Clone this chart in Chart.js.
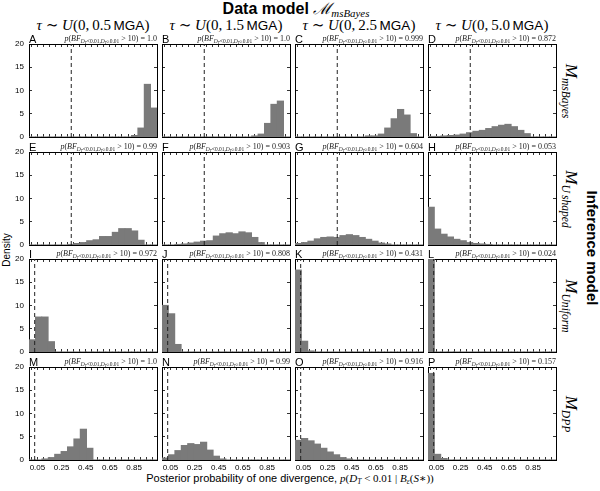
<!DOCTYPE html>
<html><head><meta charset="utf-8">
<script src="https://cdn.jsdelivr.net/npm/chart.js@4"></script>
<style>
body{margin:0;width:600px;height:491px;position:relative;background:#fff;overflow:hidden;font-family:"Liberation Sans",Arial,sans-serif;color:#000}
canvas{position:absolute}
.t{position:absolute;white-space:nowrap;line-height:1}
.c{transform:translate(-50%,-50%)}
.m{font-family:"Liberation Serif","DejaVu Serif",serif}
sub{font-size:0.68em;vertical-align:-0.3em;line-height:0}
</style></head><body>
<script>
// ---------- data ----------
const PANEL_LABELS = ['A','B','C','D','E','F','G','H','I','J','K','L','M','N','O','P'];
const TAU_MAX = ['0.5','1.5','2.5','5.0'];
const ROW_MODELS = ['msBayes','U\u2009shaped','Uniform','DPP'];
const BF_PROB = ['1.0','1.0','0.999','0.872','0.99','0.903','0.604','0.053','0.972','0.808','0.431','0.024','1.0','0.99','0.916','0.157'];
const X_TICK_LABELS = [0.05,0.25,0.45,0.65,0.85];
const X_MINOR = [0,0.05,0.1,0.15,0.2,0.25,0.3,0.35,0.4,0.45,0.5,0.55,0.6,0.65,0.7,0.75,0.8,0.85,0.9,0.95,1.0];
const Y_TICKS = [0,5,10,15,20];
const X_MIN = -0.02, X_MAX = 1.04;
const BIN_START = -0.02, BIN_WIDTH = 0.053;
const PRIOR_LINE = [0.33,0.33,0.027,0.027];

const densA = [0,0,0,0,0,0,0,0,0,0,0,0,0,0,0,0,0.3,1.9,11.3,6.2];
const densB = [0,0,0,0,0,0,0,0,0,0,0,0,0,0,0.2,0.6,2.9,7.0,7.7,0];
const densC = [0,0,0,0,0,0,0,0,0,0,0,0.2,0.2,0.6,1.9,3.9,5.9,4.7,0.7,0];
const densD = [0.1,0.1,0.2,0.3,0.4,0.6,0.9,1.2,1.4,1.8,2.2,2.5,2.7,2.2,1.4,0.7,0,0,0,0];
const densE = [0,0,0,0,0,0,0.1,0.3,0.5,0.9,1.1,1.8,1.8,2.7,3.5,3.5,3.0,1.0,0,0];
const densF = [0,0,0.1,0.2,0.4,0.6,0.8,0.9,1.9,2.4,2.6,2.4,2.8,2.6,1.6,0.5,0,0,0,0];
const densG = [0.3,0.5,0.8,1.3,1.6,1.7,1.6,2.0,2.2,2.0,1.6,1.2,0.8,0.4,0.2,0,0,0,0,0];
const densH = [8.1,3.4,2.3,1.7,1.2,0.9,0.5,0.3,0.2,0.1,0,0,0,0,0,0,0,0,0,0];
const densI = [2.6,7.5,7.5,2.2,0,0,0,0,0,0,0,0,0,0,0,0,0,0,0,0];
const densJ = [10.0,8.2,1.6,0,0,0,0,0,0,0,0,0,0,0,0,0,0,0,0,0];
const densK = [17.6,2.3,0.2,0,0,0,0,0,0,0,0,0,0,0,0,0,0,0,0,0];
const densL = [20,0,0,0,0,0,0,0,0,0,0,0,0,0,0,0,0,0,0,0];
const densM = [0,0,0.2,0.5,1.2,1.8,2.8,4.5,6.6,2.5,0,0,0,0,0,0,0,0,0,0];
const densN = [0.4,1.1,2.0,3.1,3.5,3.3,3.8,2.1,0.8,0.2,0,0,0,0,0,0,0,0,0,0];
const densO = [4.2,4.6,4.1,3.4,2.5,1.7,1.1,0.5,0.2,0,0,0,0,0,0,0,0,0,0,0];
const densP = [18.6,1.2,0.3,0,0,0,0,0,0,0,0,0,0,0,0,0,0,0,0,0];
const DENS = [densA,densB,densC,densD,densE,densF,densG,densH,densI,densJ,densK,densL,densM,densN,densO,densP];

// ---------- layout ----------
const COL_LEFT = [29,162,295,428];
const ROW_TOP = [44,152,259,367];
const PW = 128, PH = 93, MG = 26;

function addText(html, css, cls){
  const d = document.createElement('div');
  d.className = 't ' + (cls||'');
  d.innerHTML = html;
  Object.assign(d.style, css);
  document.body.appendChild(d);
  return d;
}

// title
addText('<b>Data model</b> <span class="m"><i>ℳ</i><sub><i>msBayes</i></sub></span>',
  {left:'296px', top:'9px', fontSize:'16px'}, 'c');
// column headers
for (let c=0;c<4;c++){
  addText('<span class="m"><i>τ</i> ∼ <i>U</i>(0,&thinsp;'+TAU_MAX[c]+'</span><span style="font-size:0.9em">&thinsp;MGA</span><span class="m">)</span>',
    {left:(COL_LEFT[c]+PW/2)+'px', top:'25px', fontSize:'15px'}, 'c');
}
// row labels
for (let r=0;r<4;r++){
  addText('<span class="m"><i>M</i><sub><i>'+ROW_MODELS[r]+'</i></sub></span>',
    {left:'571px', top:(ROW_TOP[r]+PH/2)+'px', fontSize:'17px', transform:'translate(-50%,-50%) rotate(90deg)'});
}
addText('<b>Inference model</b>',{left:'592px', top:'248px', fontSize:'15px', transform:'translate(-50%,-50%) rotate(90deg)'});
addText('Density',{left:'7px', top:'250px', fontSize:'10px', transform:'translate(-50%,-50%) rotate(-90deg)'});
addText('Posterior probability of one divergence, <span class="m"><i>p</i>(<i>D</i><sub><i>T</i></sub> &lt; 0.01 | <i>B</i><sub><i>ε</i></sub>(<i>S</i>∗))</span>',
  {left:'290px', top:'478px', fontSize:'11px'}, 'c');

const fix = s => { if (s.isHorizontal()) s.height = MG; else s.width = MG; };
const gridOpts = {display:true, drawOnChartArea:false, drawTicks:true, tickLength:-3, color:'#000', lineWidth:0.8, offset:false};
const borderOpts = {display:true, color:'#000', width:1};
const tickFont = {family:'"Liberation Sans", Arial, sans-serif', size:8};

for (let r=0;r<4;r++){
  for (let c=0;c<4;c++){
    const k = r*4+c;
    const cv = document.createElement('canvas');
    cv.width = PW+2*MG; cv.height = PH+2*MG;
    cv.style.left = (COL_LEFT[c]-MG)+'px';
    cv.style.top = (ROW_TOP[r]-MG)+'px';
    document.body.appendChild(cv);
    new Chart(cv, {
      type:'bar',
      data:{datasets:[
        {type:'bar', data:DENS[k].map((v,i)=>({x:BIN_START+(i+0.5)*BIN_WIDTH, y:v})),
         backgroundColor:'#7a7a7a', borderWidth:0, barPercentage:1, categoryPercentage:1, inflateAmount:0.6,
         xAxisID:'x', yAxisID:'y', order:2},
        {type:'line', data:[{x:PRIOR_LINE[r], y:Y_TICKS[0]},{x:PRIOR_LINE[r], y:Y_TICKS[Y_TICKS.length-1]}],
         borderColor:'#222', borderWidth:1, borderDash:[4,3], pointRadius:0, fill:false,
         xAxisID:'x', yAxisID:'y', order:1}
      ]},
      options:{
        responsive:false, animation:false, devicePixelRatio:1,
        layout:{padding:0},
        plugins:{legend:{display:false}, tooltip:{enabled:false}, title:{display:false}},
        scales:{
          x:{type:'linear', position:'bottom', min:X_MIN, max:X_MAX, offset:false,
             afterBuildTicks:s=>{s.ticks = X_MINOR.map(v=>({value:v}));}, afterFit:fix,
             grid:gridOpts, border:borderOpts,
             ticks:{display:r===3, autoSkip:false, maxRotation:0, minRotation:0, padding:6, font:tickFont, color:'#000',
               callback:v=> X_TICK_LABELS.some(t=>Math.abs(t-v)<1e-9) ? v.toFixed(2) : ''}},
          xTop:{type:'linear', position:'top', min:X_MIN, max:X_MAX, offset:false,
             afterBuildTicks:s=>{s.ticks = X_MINOR.map(v=>({value:v}));}, afterFit:fix,
             grid:gridOpts, border:borderOpts, ticks:{display:false}},
          y:{type:'linear', position:'left', min:Y_TICKS[0], max:Y_TICKS[Y_TICKS.length-1],
             afterBuildTicks:s=>{s.ticks = Y_TICKS.map(v=>({value:v}));}, afterFit:fix,
             grid:gridOpts, border:borderOpts,
             ticks:{display:c===0, autoSkip:false, padding:8, font:tickFont, color:'#000'}},
          yRight:{type:'linear', position:'right', min:Y_TICKS[0], max:Y_TICKS[Y_TICKS.length-1],
             afterBuildTicks:s=>{s.ticks = Y_TICKS.map(v=>({value:v}));}, afterFit:fix,
             grid:gridOpts, border:borderOpts, ticks:{display:false}}
        }
      }
    });
    // panel letter and BF annotation
    addText(PANEL_LABELS[k], {left:COL_LEFT[c]+'px', top:(ROW_TOP[r]-10)+'px', fontSize:'11px'});
    addText('<span class="m"><i>p</i>(<i>BF</i><sub><i>D</i><sub><i>T</i></sub>&lt;0.01,<i>D</i><sub><i>T</i></sub>≥0.01</sub> &gt; 10) = '+BF_PROB[k]+'</span>',
      {right:(600-COL_LEFT[c]-PW)+'px', top:(ROW_TOP[r]-9)+'px', fontSize:'8px', color:'#222'});
  }
}
</script>
</body></html>
